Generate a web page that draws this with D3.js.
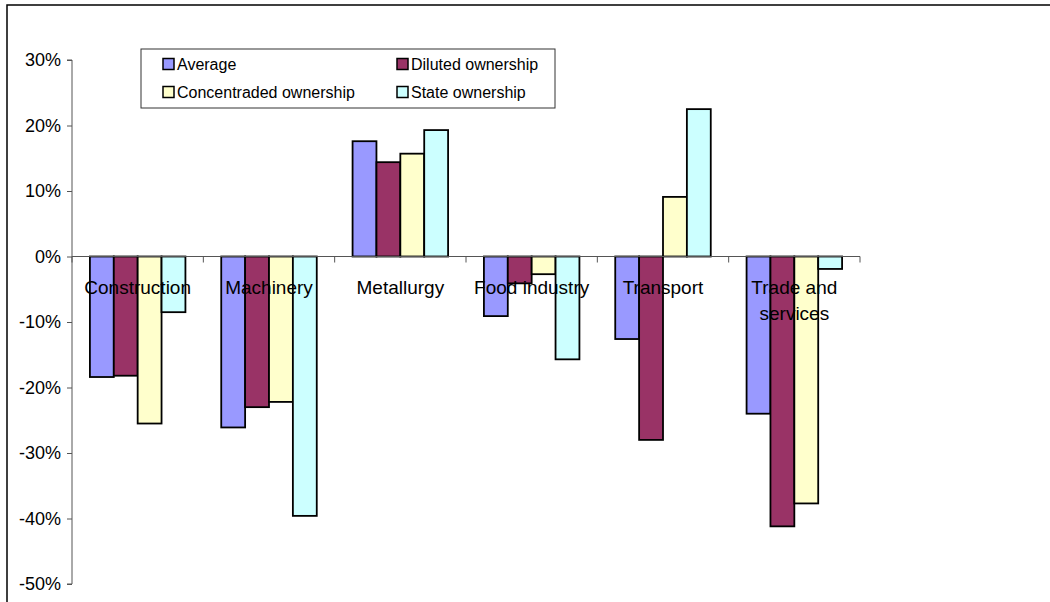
<!DOCTYPE html>
<html>
<head>
<meta charset="utf-8">
<script src="https://cdn.jsdelivr.net/npm/d3@7"></script>
<style>
  html, body { margin: 0; padding: 0; background: #fff; }
  svg { display: block; font-family: "Liberation Sans", Arial, sans-serif; }
</style>
</head>
<body>
<svg id="chart" width="1050" height="602"></svg>
<script>
// Industry categories along the x axis
const categories = ["Construction", "Machinery", "Metallurgy", "Food industry", "Transport", "Trade and services"];
// Ownership groups shown as side-by-side bars
const seriesNames = ["Average", "Diluted ownership", "Concentraded ownership", "State ownership"];
const seriesColors = ["#9999FF", "#993366", "#FFFFCC", "#CCFFFF"];
// Values per series, one per category (fractions)
const average      = [-0.184, -0.261,  0.176, -0.091, -0.126, -0.240];
const diluted      = [-0.182, -0.230,  0.144, -0.041, -0.280, -0.412];
const concentrated = [-0.255, -0.222,  0.157, -0.027,  0.091, -0.377];
const stateOwned   = [-0.085, -0.396,  0.193, -0.157,  0.225, -0.019];
const seriesValues = [average, diluted, concentrated, stateOwned];
// Y axis ticks
const yTicks = [0.3, 0.2, 0.1, 0, -0.1, -0.2, -0.3, -0.4, -0.5];

const svg = d3.select("#chart");

// outer chart frame
svg.append("rect")
  .attr("x", 7).attr("y", 5).attr("width", 1100).attr("height", 700)
  .attr("fill", "none").attr("stroke", "#000").attr("stroke-width", 1.5);

const plot = { left: 72, right: 860, top: 60, bottom: 584 };

const y = d3.scaleLinear().domain([-0.5, 0.3]).range([plot.bottom, plot.top]);
const x0 = d3.scaleBand().domain(categories).range([plot.left, plot.right]).padding(0);
const catW = x0.bandwidth();
const barW = catW / 5.5;
const x1 = d3.scaleBand().domain(d3.range(seriesNames.length))
  .range([barW * 0.75, catW - barW * 0.75]).padding(0);

// y axis
const yAxis = d3.axisLeft(y).tickValues(yTicks)
  .tickFormat(d3.format(".0%")).tickSize(5).tickPadding(6);
const gy = svg.append("g").attr("transform", `translate(${plot.left},0)`).call(yAxis);
gy.select(".domain").attr("stroke", "#555").attr("d", `M-5,${y(0.3)}H0V${y(-0.5)}H-5`);
gy.selectAll(".tick line").attr("stroke", "#555");
gy.selectAll(".tick text").attr("font-size", 18).attr("fill", "#000")
  .text(d => d3.format(".0%")(d).replace("−", "-"));

// bars
const groups = svg.append("g").selectAll("g").data(categories).join("g")
  .attr("transform", d => `translate(${x0(d)},0)`);
groups.selectAll("rect")
  .data((c, ci) => seriesValues.map((vals, si) => ({ si, v: vals[ci] })))
  .join("rect")
  .attr("x", d => x1(d.si))
  .attr("width", x1.bandwidth())
  .attr("y", d => y(Math.max(0, d.v)))
  .attr("height", d => Math.abs(y(d.v) - y(0)))
  .attr("fill", d => seriesColors[d.si])
  .attr("stroke", "#000").attr("stroke-width", 1.8);

// x axis along zero line with boundary ticks
const gx = svg.append("g");
gx.append("line").attr("x1", plot.left).attr("x2", plot.right)
  .attr("y1", y(0)).attr("y2", y(0)).attr("stroke", "#555");
const bounds = categories.map(c => x0(c)).concat([plot.right]);
gx.selectAll(".bt").data(bounds).join("line")
  .attr("x1", d => d).attr("x2", d => d)
  .attr("y1", y(0)).attr("y2", y(0) + 6).attr("stroke", "#555");

// category labels (drawn over bars)
const labelLines = categories.map(c => c === "Trade and services" ? ["Trade and", "services"] : [c]);
const lbl = svg.append("g").selectAll("text").data(categories).join("text")
  .attr("x", d => x0(d) + catW / 2)
  .attr("y", y(0) + 37)
  .attr("text-anchor", "middle")
  .attr("font-size", 19).attr("fill", "#000");
lbl.each(function(d, i) {
  const t = d3.select(this);
  labelLines[i].forEach((line, li) => {
    t.append("tspan").attr("x", x0(d) + catW / 2).attr("dy", li === 0 ? 0 : 26).text(line);
  });
});

// legend
const legend = svg.append("g");
legend.append("rect").attr("x", 141).attr("y", 49).attr("width", 414).attr("height", 59)
  .attr("fill", "#fff").attr("stroke", "#333").attr("stroke-width", 1);
const legendPos = [[163, 64], [397, 64], [163, 92], [397, 92]];
seriesNames.forEach((name, i) => {
  const [lx, ly] = legendPos[i];
  legend.append("rect").attr("x", lx).attr("y", ly - 5.5).attr("width", 11).attr("height", 11)
    .attr("fill", seriesColors[i]).attr("stroke", "#000").attr("stroke-width", 1.5);
  legend.append("text").attr("x", lx + 14).attr("y", ly + 6)
    .attr("font-size", 16).attr("fill", "#000").text(name);
});
</script>
</body>
</html>
